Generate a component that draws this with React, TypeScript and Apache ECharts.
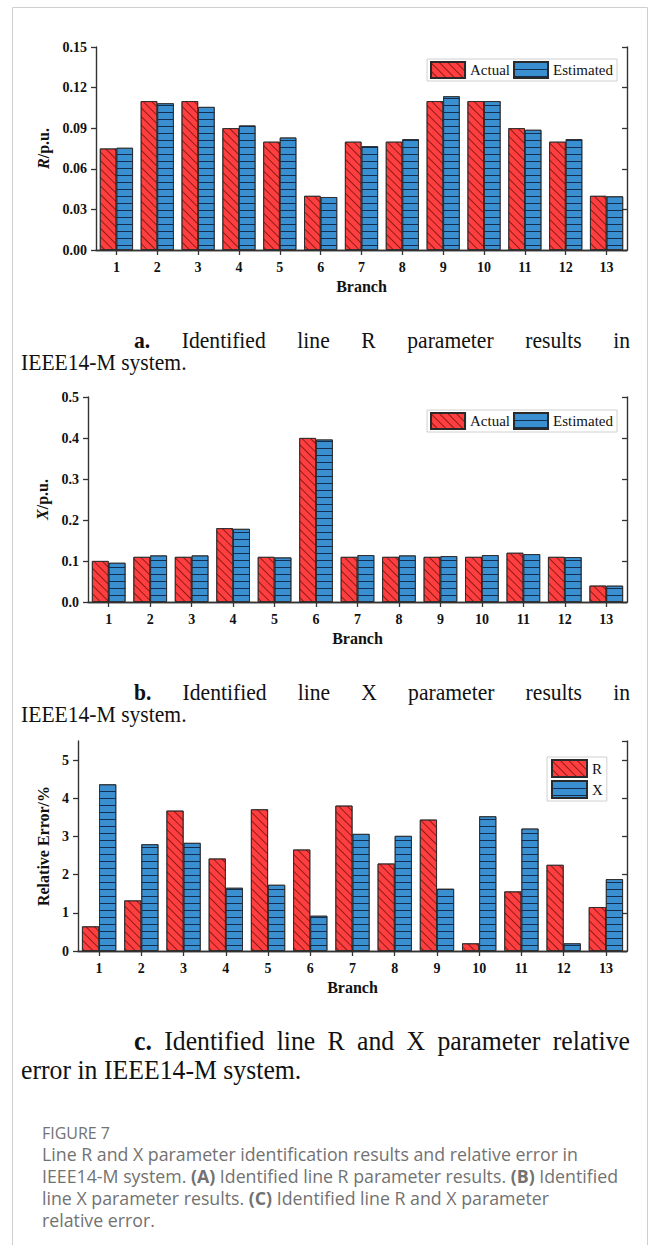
import React, { useEffect, useRef } from "react";
import * as echarts from "echarts";

const branches = ["1", "2", "3", "4", "5", "6", "7", "8", "9", "10", "11", "12", "13"];

const rActual = [0.075, 0.11, 0.11, 0.09, 0.08, 0.04, 0.08, 0.08, 0.11, 0.11, 0.09, 0.08, 0.04];
const rEstimated = [0.0755, 0.1084, 0.1057, 0.092, 0.0831, 0.0391, 0.0767, 0.0819, 0.1136, 0.11, 0.0888, 0.0819, 0.0396];

const xActual = [0.1, 0.11, 0.11, 0.18, 0.11, 0.4, 0.11, 0.11, 0.11, 0.11, 0.12, 0.11, 0.04];
const xEstimated = [0.0956, 0.1135, 0.1135, 0.1783, 0.1086, 0.3963, 0.1143, 0.1135, 0.1118, 0.1143, 0.1167, 0.1094, 0.0397];

const errR = [0.645, 1.324, 3.676, 2.422, 3.711, 2.657, 3.807, 2.291, 3.441, 0.2, 1.559, 2.256, 1.15];
const errX = [4.364, 2.796, 2.831, 1.655, 1.733, 0.923, 3.066, 3.014, 1.629, 3.528, 3.206, 0.2, 1.882];

const rTicks = { min: 0, max: 0.15, interval: 0.03, decimals: 2 };
const xTicks = { min: 0, max: 0.5, interval: 0.1, decimals: 1 };
const eTicks = { min: 0, max: 5.5, interval: 1, decimals: 0 };

const captionA = ["a.", "Identified", "line", "R", "parameter", "results", "in"];
const captionA2 = "IEEE14-M system.";
const captionB = ["b.", "Identified", "line", "X", "parameter", "results", "in"];
const captionB2 = "IEEE14-M system.";
const captionC = ["c.", "Identified", "line", "R", "and", "X", "parameter", "relative"];
const captionC2 = "error in IEEE14-M system.";

const figLabel = "FIGURE 7";
const figLines: string[][] = [
  ["Line R and X parameter identification results and relative error in"],
  ["IEEE14-M system. ", "(A)", " Identified line R parameter results. ", "(B)", " Identified"],
  ["line X parameter results. ", "(C)", " Identified line R and X parameter"],
  ["relative error."],
];

const SERIF = '"Liberation Serif", "Times New Roman", serif';
const SANS = '"Open Sans", "Noto Sans", sans-serif';
const RED = "#FF3F3F";
const BLUE = "#3A8FD0";
const AXIS = "#333333";

const redDecal = {
  symbol: "rect",
  symbolSize: 1,
  color: "rgba(70,0,0,0.6)",
  dashArrayX: [1, 0],
  dashArrayY: [1, 5],
  rotation: Math.PI / 4,
};
const blueDecal = {
  symbol: "rect",
  symbolSize: 1,
  color: "rgba(10,30,60,0.85)",
  dashArrayX: [1, 0],
  dashArrayY: [1, 6],
  rotation: 0,
};

function measure(text: string, font: string): number {
  const c = document.createElement("canvas").getContext("2d");
  if (!c) return text.length * 8;
  c.font = font;
  return c.measureText(text).width;
}

function justifiedLine(words: string[], x0: number, x1: number, y: number, size: number, sx: number) {
  const widths = words.map(
    (w, i) => measure(w, `${i === 0 ? "bold " : ""}${size}px "Liberation Serif"`) * sx
  );
  const total = widths.reduce((a, b) => a + b, 0);
  const gap = (x1 - x0 - total) / (words.length - 1);
  const els: any[] = [];
  let x = x0;
  words.forEach((w, i) => {
    els.push({
      type: "text",
      x,
      y,
      scaleX: sx,
      style: {
        text: w,
        fontFamily: SERIF,
        fontSize: size,
        lineHeight: size * 0.8,
        fontWeight: i === 0 ? "bold" : "normal",
        fill: "#111",
        textVerticalAlign: "middle",
      },
    });
    x += widths[i] + gap;
  });
  return els;
}

function plainLine(text: string, x: number, y: number, size: number, sx: number) {
  return {
    type: "text",
    x,
    y,
    scaleX: sx,
    style: {
      text,
      fontFamily: SERIF,
      fontSize: size,
      lineHeight: size * 0.8,
      fill: "#111",
      textVerticalAlign: "middle",
    },
  };
}

function App() {
  const ref = useRef<HTMLDivElement>(null);

  useEffect(() => {
    document.body.style.margin = "0";
    if (!ref.current) return;
    const chart = echarts.init(ref.current, null, { renderer: "svg" });

    const grids = [
      { left: 96, top: 47, width: 531, height: 203 },
      { left: 88, top: 397, width: 539, height: 205 },
      { left: 78, top: 741, width: 549, height: 210 },
    ];
    const ticks = [rTicks, xTicks, eTicks];
    const yNames = ["{i|R}/p.u.", "{i|X}/p.u.", "Relative Error/%"];
    const yNameGaps = [42, 34, 22];

    const xAxis: any[] = [];
    const yAxis: any[] = [];
    grids.forEach((g, i) => {
      const line = { show: true, lineStyle: { color: AXIS, width: 1.4 } };
      xAxis.push({
        type: "category",
        gridIndex: i,
        data: branches,
        position: "bottom",
        axisLine: line,
        axisTick: { show: true, inside: true, alignWithLabel: true, length: 5, lineStyle: { color: AXIS, width: 1.3 } },
        axisLabel: { fontFamily: SERIF, fontWeight: "bold", fontSize: 14, color: "#111", margin: 10 },
        name: "Branch",
        nameLocation: "middle",
        nameGap: 28,
        nameTextStyle: { fontFamily: SERIF, fontWeight: "bold", fontSize: 16, color: "#111" },
      });
      xAxis.push({
        type: "category",
        gridIndex: i,
        data: branches,
        position: "top",
        axisLine: line,
        axisTick: { show: true, inside: true, alignWithLabel: true, length: 5, lineStyle: { color: AXIS, width: 1.3 } },
        axisLabel: { show: false },
      });
      const t = ticks[i];
      yAxis.push({
        type: "value",
        gridIndex: i,
        position: "left",
        min: t.min,
        max: t.max,
        interval: t.interval,
        axisLine: line,
        axisTick: { show: true, inside: false, length: 5, lineStyle: { color: AXIS, width: 1.3 } },
        axisLabel: {
          fontFamily: SERIF,
          fontWeight: "bold",
          fontSize: 14,
          color: "#111",
          margin: 9,
          showMaxLabel: i === 2 ? false : true,
          formatter: (v: number) => v.toFixed(t.decimals),
        },
        splitLine: { show: false },
        name: yNames[i],
        nameLocation: "middle",
        nameRotate: 90,
        nameGap: yNameGaps[i],
        nameTextStyle: {
          fontFamily: SERIF,
          fontWeight: "bold",
          fontSize: 16,
          color: "#111",
          rich: { i: { fontFamily: SERIF, fontWeight: "bold", fontStyle: "italic", fontSize: 16, color: "#111" } },
        },
      });
      yAxis.push({
        type: "value",
        gridIndex: i,
        position: "right",
        min: t.min,
        max: t.max,
        interval: t.interval,
        axisLine: line,
        axisTick: { show: true, inside: true, length: 5, lineStyle: { color: AXIS, width: 1.3 } },
        axisLabel: { show: false },
        splitLine: { show: false },
      });
    });

    const mkSeries = (name: string, data: number[], gi: number, red: boolean) => ({
      type: "bar",
      name,
      xAxisIndex: gi * 2,
      yAxisIndex: gi * 2,
      data,
      barGap: "0%",
      barCategoryGap: "19%",
      itemStyle: {
        color: red ? RED : BLUE,
        borderColor: "#2a2a2a",
        borderWidth: 0.8,
        decal: red ? redDecal : blueDecal,
      },
      emphasis: { disabled: true },
    });

    const legendText = { fontFamily: SERIF, fontSize: 15, color: "#111" };

    const graphic: any[] = [
      {
        type: "rect",
        shape: { x: 12.5, y: 7.5, width: 635, height: 1260 },
        style: { fill: "none", stroke: "#cfcfcf", lineWidth: 1 },
        silent: true,
      },
      ...justifiedLine(captionA, 134, 630, 340, 24, 0.9),
      plainLine(captionA2, 21, 362, 24, 0.9),
      ...justifiedLine(captionB, 134, 630, 692, 24, 0.9),
      plainLine(captionB2, 21, 714, 24, 0.9),
      ...justifiedLine(captionC, 134, 630, 1041, 28, 0.92),
      plainLine(captionC2, 21, 1070, 28, 0.92),
    ];

    // bottom figure caption (sans): size so that the first line spans x 42..578
    const refW = measure(figLines[0].join(""), `16px "Open Sans"`);
    const capSize = ((578 - 42) / refW) * 16;
    const capColor = "#727272";
    graphic.push({
      type: "text",
      x: 42,
      y: 1133,
      style: {
        text: figLabel,
        fontFamily: SANS,
        fontSize: capSize * 0.9,
        lineHeight: 18,
        fill: capColor,
        textVerticalAlign: "middle",
      },
    });
    figLines.forEach((parts, li) => {
      const text = parts
        .map((p) => (/^\([ABC]\)$/.test(p) ? `{b|${p}}` : `{n|${p}}`))
        .join("");
      graphic.push({
        type: "text",
        x: 42,
        y: 1154 + li * 22,
        style: {
          text,
          fontFamily: SANS,
          fontSize: capSize,
          lineHeight: 19,
          fill: capColor,
          textVerticalAlign: "middle",
          rich: {
            n: { fontFamily: SANS, fontSize: capSize, lineHeight: 19, color: capColor },
            b: { fontFamily: SANS, fontSize: capSize, lineHeight: 19, fontWeight: "bold", color: "#3a3a3a" },
          },
        },
      });
    });

    const legendBase = {
      icon: "rect",
      itemGap: 3,
      borderColor: "#d0d0d0",
      borderWidth: 1,
      backgroundColor: "#fff",
      textStyle: legendText,
      selectedMode: false,
    };

    chart.setOption({
      animation: false,
      backgroundColor: "#ffffff",
      grid: grids.map((g) => ({ ...g, containLabel: false })),
      xAxis,
      yAxis,
      legend: [
        { ...legendBase, data: ["Actual", "Estimated"], right: 39, top: 59, itemWidth: 34, itemHeight: 16, padding: [2, 4, 2, 3] },
        { ...legendBase, data: ["Actual", "Estimated"], right: 39, top: 410, itemWidth: 34, itemHeight: 16, padding: [2, 4, 2, 3] },
        {
          ...legendBase,
          data: ["R", "X"],
          left: 547,
          top: 757,
          orient: "vertical",
          itemWidth: 35,
          itemHeight: 17,
          itemGap: 2,
          padding: [2, 4, 2, 4],
        },
      ],
      series: [
        mkSeries("Actual", rActual, 0, true),
        mkSeries("Estimated", rEstimated, 0, false),
        mkSeries("Actual", xActual, 1, true),
        mkSeries("Estimated", xEstimated, 1, false),
        mkSeries("R", errR, 2, true),
        mkSeries("X", errX, 2, false),
      ],
      graphic,
    });

    return () => {
      chart.dispose();
    };
  }, []);

  return (
    <div
      ref={ref}
      style={{ position: "absolute", left: 0, top: 0, width: 656, height: 1245, background: "#fff" }}
    />
  );
}

export default App;
